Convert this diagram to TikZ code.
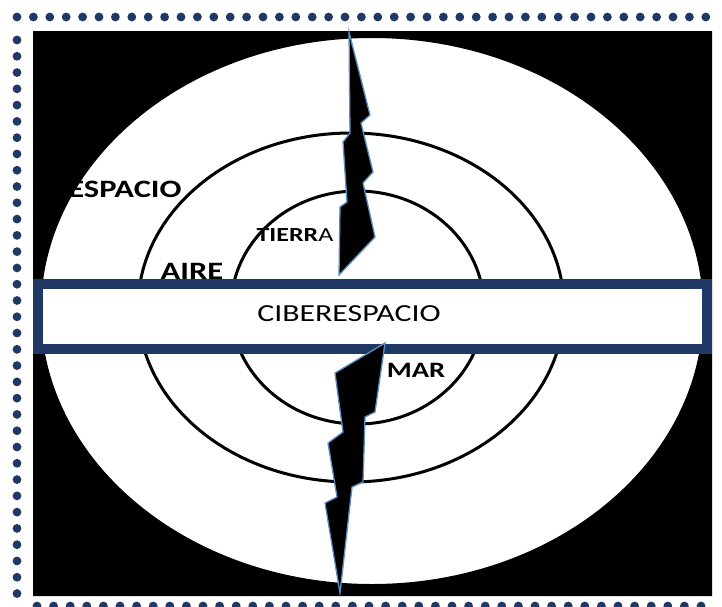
\documentclass[tikz,border=0pt]{standalone}
\usepackage{fontspec}
\setmainfont{Carlito}[FakeStretch=1.3]
\usetikzlibrary{arrows.meta}

\definecolor{navy}{HTML}{203864}
\definecolor{boltline}{HTML}{5B8FC7}

\begin{document}
\begin{tikzpicture}[x=1pt, y=-1pt, >=Stealth,
    ring/.style={draw=black, line width=3pt},
    zone/.style={font=\fontsize{25}{28}\selectfont\bfseries, inner sep=0pt, anchor=base},
    bolt/.style={fill=black, draw=boltline, line width=1.3pt, line join=miter}]

    \useasboundingbox (0,0) rectangle (722,606);
    \fill[white] (0,0) rectangle (722,606);

    % ==========================================
    % 1. DOTTED FRAME
    % ==========================================
    \foreach \i in {0,...,42} {
        \fill[navy] (17+16.4*\i, 17) circle (4.4pt);
    }
    \foreach \j in {0,...,34} {
        \fill[navy] (17, 40+16.28*\j) circle (4.4pt);
    }
    \foreach \i in {0,...,40} {
        \fill[navy] (37+16.6*\i, 606) circle (4.4pt);
    }

    % ==========================================
    % 2. OUTER SPACE (black corners around the big ellipse)
    % ==========================================
    \node[zone] (espacio) at (125, 197) {ESPACIO};
    \fill[black, even odd rule] (33,31) rectangle (712,596)
        (372,311) ellipse [x radius=331, y radius=273];

    % ==========================================
    % 3. RINGS
    % ==========================================
    \draw[ring] (351,307.5) ellipse [x radius=213, y radius=174.5];
    \draw[ring] (357.5,307.5) ellipse [x radius=126.5, y radius=116.5];

    % Labels of the rings
    \node[zone] (aire) at (192, 279) {AIRE};
    \node[zone, font=\fontsize{20}{22}\selectfont] (tierra) at (295, 241) {\textbf{TIERR}A};
    \node[zone, font=\fontsize{22}{24}\selectfont\bfseries] (mar) at (416, 377) {MAR};

    % ==========================================
    % 4. CYBERSPACE BAND
    % ==========================================
    \draw[navy, fill=white, line width=9.5pt] (38,283.75) rectangle (707,348.75);
    \node[zone, font=\fontsize{24.5}{27}\selectfont] (ciber) at (349, 321) {CIBERESPACIO};

    % ==========================================
    % 5. LIGHTNING BOLTS
    % ==========================================
    % Upper bolt
    \draw[bolt] (349,32) -- (370,115) -- (361,123) -- (373,172) -- (363,183)
        -- (375,237) -- (339,275) -- (340,207) -- (347,202) -- (343,142)
        -- (350,133) -- cycle;

    % Lower bolt
    \draw[bolt] (385,343) -- (375,412) -- (365,417) -- (363,482) -- (352,487)
        -- (340,593) -- (325,503) -- (337,497) -- (328,443) -- (343,432)
        -- (335,373) -- cycle;

\end{tikzpicture}
\end{document}
